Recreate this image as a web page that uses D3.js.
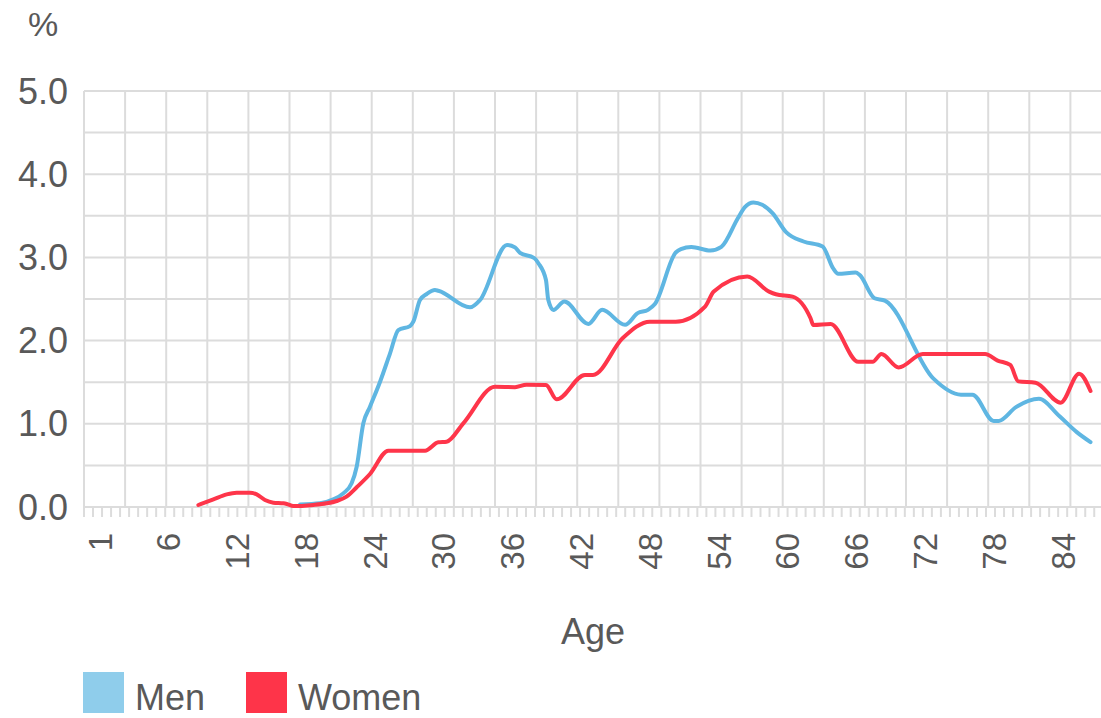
<!DOCTYPE html>
<html>
<head>
<meta charset="utf-8">
<script src="https://cdn.jsdelivr.net/npm/d3@7"></script>
<style>
    body { margin: 0; background: #ffffff; }
    #chart-container { width: 1101px; height: 718px; }
    text { font-family: "Liberation Sans", Arial, sans-serif; fill: #595959; }
</style>
</head>
<body>
<div id="chart-container"></div>
<script>
// ages (tick positions) and the labels Excel printed under them
var tickAges = [0, 6, 12, 18, 24, 30, 36, 42, 48, 54, 60, 66, 72, 78, 84];
var tickLabels = ["1", "6", "12", "18", "24", "30", "36", "42", "48", "54", "60", "66", "72", "78", "84"];
var yTicks = [0, 1, 2, 3, 4, 5];

// Men, share of the age group (%)
var menAges = [17.45, 19.19, 20.35, 21.22, 21.95, 22.39, 22.97, 23.55, 24.43, 25.3, 26.02, 27.04, 27.33, 27.91,
    28.5, 29.22, 29.51, 32.27, 33.15, 35.5, 36.2, 36.64, 37.9, 38.24, 38.9, 39.1, 39.54, 40.5, 42.6, 43.8,
    45.8, 46.9, 47.8, 48.4, 50.22, 50.67, 51.58, 53.24, 54.2, 55.65, 56.25, 57.0, 57.76, 58.66, 59.87, 61.37,
    63.03, 63.94, 64.39, 65.9, 66.26, 67.56, 68.46, 72.68, 75.1, 76.1, 77.95, 78.4, 79.9, 81.9, 83.7, 85.2, 86.4];
var menValues = [0.03, 0.044, 0.092, 0.164, 0.285, 0.484, 1.006, 1.206, 1.506, 1.847, 2.127, 2.175, 2.227, 2.488,
    2.56, 2.608, 2.6, 2.4, 2.488, 3.15, 3.12, 3.055, 2.99, 2.93, 2.728, 2.49, 2.368, 2.47, 2.2, 2.37,
    2.19, 2.33, 2.37, 2.44, 3.059, 3.1, 3.126, 3.082, 3.126, 3.473, 3.605, 3.661, 3.633, 3.533, 3.3, 3.191,
    3.131, 2.87, 2.802, 2.818, 2.79, 2.509, 2.481, 1.546, 1.35, 1.35, 1.035, 1.035, 1.2, 1.3, 1.09, 0.9, 0.78];

// Women, share of the age group (%)
var womenAges = [8.58, 9.89, 11.05, 11.92, 13.08, 13.67, 14.39, 15.12, 16.0, 16.3, 16.86, 17.45, 18.6, 19.77,
    20.64, 21.5, 22.39, 23.55, 25.15, 28.35, 29.51, 30.23, 31.69, 34.46, 36.2, 37.2, 38.9, 39.83, 42.3, 43.0,
    45.6, 47.96, 50.22, 52.78, 53.54, 56.46, 58.36, 58.96, 60.41, 61.98, 62.22, 63.73, 66.14, 67.4, 68.16,
    69.66, 71.77, 77.2, 78.3, 79.4, 80.1, 81.6, 83.8, 85.4, 86.4];
var womenValues = [0.024, 0.092, 0.152, 0.172, 0.172, 0.152, 0.084, 0.052, 0.044, 0.036, 0.012, 0.012, 0.024, 0.044,
    0.072, 0.124, 0.237, 0.397, 0.677, 0.677, 0.778, 0.785, 1.006, 1.446, 1.44, 1.47, 1.466, 1.294, 1.587, 1.587,
    2.03, 2.228, 2.228, 2.409, 2.589, 2.77, 2.589, 2.557, 2.529, 2.268, 2.188, 2.2, 1.746, 1.746, 1.839,
    1.678, 1.839, 1.839, 1.76, 1.707, 1.51, 1.494, 1.254, 1.603, 1.395];

var seriesNames = ["Men", "Women"];
var lineColors = ["#5fb6e2", "#fe354a"];
var swatchColors = ["#8fcdeb", "#fe3449"];

function create_chart() {
    // Step 0: the svg
    var svg = d3.select("#chart-container")
        .append("svg")
        .attr("width", 1101)
        .attr("height", 718);

    var left = 84, right = 1101, top = 91, bottom = 507;

    // Step 1: scales (x is placed by the printed age labels)
    var xScale = d3.scaleLinear().domain([0, 84]).range([100, 1063]);
    var yScale = d3.scaleLinear().domain([0, 5]).range([bottom, top]);

    // Step 2: grid
    var grid = svg.append("g").attr("stroke", "#dcdcdc").attr("stroke-width", 2);
    grid.selectAll(".hgrid")
        .data(d3.range(0, 5.01, 0.5))
        .enter()
        .append("line")
        .attr("x1", left).attr("x2", right)
        .attr("y1", d => yScale(d)).attr("y2", d => yScale(d));
    var gridStep = 41.1;
    grid.selectAll(".vgrid")
        .data(d3.range(left, right, gridStep))
        .enter()
        .append("line")
        .attr("x1", d => d).attr("x2", d => d)
        .attr("y1", top).attr("y2", bottom);

    // small ticks under the axis
    var tickStep = 9.02;
    grid.selectAll(".minor")
        .data(d3.range(left, right, tickStep))
        .enter()
        .append("line")
        .attr("x1", d => d).attr("x2", d => d)
        .attr("y1", bottom).attr("y2", bottom + 10);

    // Step 3: y labels
    svg.selectAll(".ylab")
        .data(yTicks)
        .enter()
        .append("text")
        .attr("x", 68)
        .attr("y", d => yScale(d))
        .attr("dy", "0.35em")
        .attr("text-anchor", "end")
        .style("font-size", "36px")
        .text(d => d.toFixed(1));

    svg.append("text")
        .attr("x", 28)
        .attr("y", 36)
        .style("font-size", "34px")
        .text("%");

    // Step 4: x labels, rotated
    svg.selectAll(".xlab")
        .data(tickAges)
        .enter()
        .append("text")
        .attr("transform", d => `translate(${xScale(d)},533) rotate(-90)`)
        .attr("dy", "0.35em")
        .attr("text-anchor", "end")
        .style("font-size", "33px")
        .text((d, i) => tickLabels[i]);

    svg.append("text")
        .attr("x", 593)
        .attr("y", 644)
        .attr("text-anchor", "middle")
        .style("font-size", "36px")
        .text("Age");

    // Step 5: lines
    var line = d3.line()
        .x(d => xScale(d[0]))
        .y(d => yScale(d[1]))
        .curve(d3.curveMonotoneX);

    var series = [
        d3.zip(menAges, menValues),
        d3.zip(womenAges, womenValues)
    ];

    svg.selectAll(".series")
        .data(series)
        .enter()
        .append("path")
        .attr("d", line)
        .attr("fill", "none")
        .attr("stroke", (d, i) => lineColors[i])
        .attr("stroke-width", 4)
        .attr("stroke-linejoin", "round")
        .attr("stroke-linecap", "round");

    // Step 6: legend (kept a little above the bottom edge)
    var legendX = [83, 246];
    var legend = svg.selectAll(".legend")
        .data(seriesNames)
        .enter()
        .append("g")
        .attr("transform", (d, i) => `translate(${legendX[i]},672)`);
    legend.append("rect")
        .attr("width", 41)
        .attr("height", 41)
        .attr("fill", (d, i) => swatchColors[i]);
    legend.append("text")
        .attr("x", 52)
        .attr("y", 38)
        .style("font-size", "36px")
        .text(d => d);
}

create_chart();
</script>
</body>
</html>
